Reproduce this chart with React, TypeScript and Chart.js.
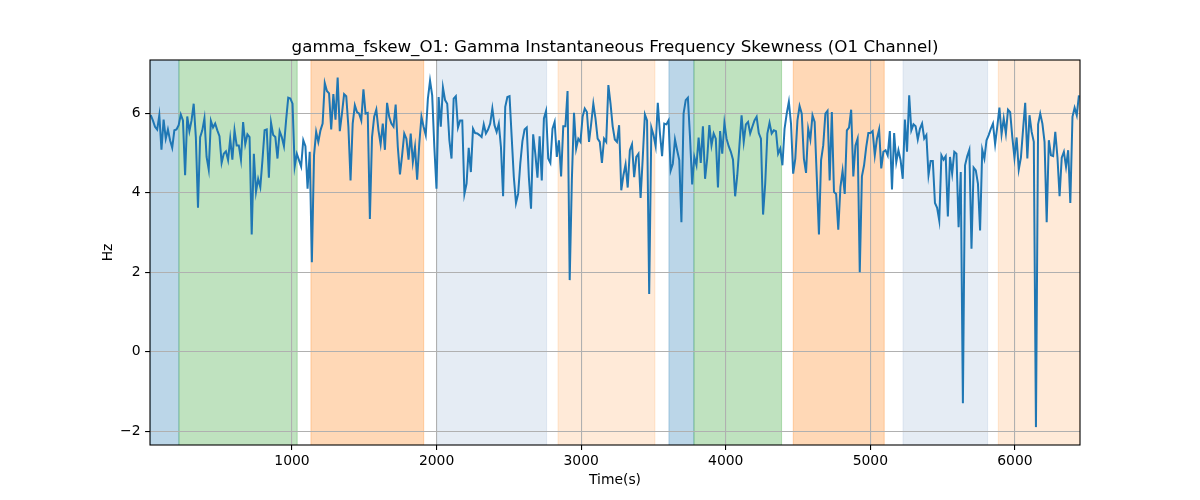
import React, { useEffect, useRef } from 'react';
import { Chart, registerables } from 'chart.js';

Chart.register(...registerables);

const TITLE = 'gamma_fskew_O1: Gamma Instantaneous Frequency Skewness (O1 Channel)';
const X_LABEL = 'Time(s)';
const Y_LABEL = 'Hz';

const START_TIME = 23;
const SAMPLE_STEP = 14.86;

const VALUES = [
  5.95, 5.82, 5.66, 5.59, 5.95, 5.08, 5.84, 5.36, 5.59, 5.32,
  5.13, 5.57, 5.59, 5.70, 5.97, 5.82, 4.44, 5.92, 5.55, 5.82,
  6.24, 5.40, 3.62, 5.40, 5.57, 5.87, 4.90, 4.58, 5.81, 5.64,
  5.74, 5.57, 5.42, 4.75, 4.98, 5.04, 4.82, 5.36, 4.83, 5.57,
  5.19, 5.19, 4.83, 5.78, 5.22, 5.47, 5.40, 2.95, 4.98, 4.02,
  4.35, 4.14, 4.82, 5.57, 5.59, 4.38, 5.76, 5.45, 5.40, 4.86,
  5.55, 5.40, 5.17, 5.82, 6.39, 6.37, 6.24, 4.66, 4.98, 4.82,
  4.66, 5.32, 5.17,
  4.10, 5.03, 2.25, 4.94, 5.53, 5.28, 5.57, 5.74, 6.76, 6.56,
  6.50, 5.59, 6.48, 5.84, 6.90, 5.55, 5.99, 6.48, 6.43, 5.66,
  4.31, 5.74, 6.20, 6.03, 5.99, 5.82, 6.60, 5.99, 6.01, 3.34,
  5.40, 5.91, 6.09, 5.57, 5.22, 5.74, 5.08, 6.26, 5.91, 5.74,
  5.66, 6.22, 5.15, 4.46, 4.94, 5.49, 5.36, 4.83, 5.49, 4.77,
  5.15, 4.33, 5.24, 5.91, 5.66, 5.45, 6.37, 6.82, 6.45, 5.15,
  4.10, 6.41, 5.66, 6.65, 6.33, 6.24, 5.32, 4.86, 6.37, 6.43,
  5.64, 5.82, 5.82,
  3.97, 4.23, 5.13, 4.52, 5.61, 5.50, 5.49, 5.45, 5.40, 5.72,
  5.49, 5.59, 5.74, 6.12, 5.70, 5.53, 5.74, 5.15, 3.91, 6.16,
  6.41, 6.43, 5.40, 4.39, 3.74, 3.97, 4.73, 5.30, 5.59, 5.64,
  4.39, 3.60, 5.47, 4.98, 4.38, 5.42, 4.31, 5.87, 6.06, 4.86,
  4.75, 5.61, 5.78, 4.90, 5.32, 4.41, 5.67, 5.67, 6.56, 1.80,
  4.31, 6.01, 5.11, 5.36, 5.28, 5.91, 6.12, 6.03, 5.28, 5.74,
  6.24, 5.87, 5.36, 5.28, 4.75, 5.36, 5.28, 6.71, 6.24, 5.67,
  5.34, 5.28, 5.70, 4.06,
  4.44, 4.71, 4.13, 5.07, 5.22, 4.39, 4.90, 4.98, 3.87, 4.88,
  5.97, 5.82, 1.45, 5.64, 5.45, 5.17, 6.26, 5.49, 4.92, 5.74,
  5.72, 5.82, 4.56, 4.73, 5.34, 5.07, 4.82, 3.26, 5.99, 6.33,
  6.39, 5.40, 4.21, 4.90, 4.69, 5.39, 4.75, 5.67, 4.35, 4.86,
  5.70, 5.19, 5.49, 5.36, 4.13, 5.55, 4.98, 5.76, 5.36, 5.17,
  5.03, 4.83, 3.91, 4.44, 5.19, 5.95, 5.28, 5.72, 5.78, 5.49,
  5.66, 5.82, 5.91, 5.50, 5.36, 3.45, 4.23, 5.49, 5.76, 5.49,
  5.57,
  5.55, 4.98, 5.11, 4.69, 5.61, 5.99, 6.29, 5.74, 4.48, 4.86,
  5.82, 6.18, 5.99, 4.86, 4.50, 5.61, 5.34, 5.95, 5.78, 4.39,
  2.95, 4.82, 5.19, 5.99, 6.06, 4.31, 6.03, 4.02, 3.97, 3.07,
  4.14, 4.55, 3.97, 5.57, 5.64, 6.09, 4.41, 5.19, 5.36, 2.00,
  4.41, 4.69, 5.15, 5.50, 5.50, 5.55, 4.94, 5.36, 5.59, 4.61,
  5.03, 5.07, 4.94, 5.55, 4.08, 5.50, 4.77, 5.07, 4.82, 4.35,
  5.84, 5.03, 6.45, 5.57, 5.72, 5.67, 5.34, 5.61, 5.74, 5.36,
  5.45, 4.44,
  4.80, 4.80, 3.74, 3.62, 3.30, 4.94, 4.83, 4.92, 3.40, 4.90,
  4.48, 5.03, 4.98, 3.13, 4.52, -1.30, 4.69, 4.92, 5.08, 2.59,
  4.63, 4.56, 4.23, 3.05, 5.08, 4.86, 5.32, 5.45, 5.61, 5.74,
  5.22, 5.66, 6.14, 5.47, 5.87, 5.49, 6.09, 6.03, 5.40, 4.88,
  5.39, 4.58, 4.88, 5.59, 6.26, 4.86, 5.95, 5.53, 5.28, -1.90,
  5.72, 5.99, 5.74, 5.28, 3.26, 5.32, 4.94, 4.92, 5.53, 4.90,
  3.91, 4.88, 5.03, 4.65, 5.07, 3.74, 5.91, 6.14, 5.95, 6.45,
];

const X_TICKS = [1000, 2000, 3000, 4000, 5000, 6000];
const Y_TICKS = [-2, 0, 2, 4, 6];
const X_MIN = 18;
const X_MAX = 6450;
const Y_MIN = -2.35;
const Y_MAX = 7.34;

const BAND_STARTS = [18, 218, 1131, 2000, 2840, 3607, 3780, 4467, 5226, 5885];
const BAND_ENDS = [218, 1036, 1911, 2761, 3510, 3780, 4386, 5096, 5811, 6450];
const BAND_KINDS = ['blue', 'green', 'orange', 'lightblue', 'lightorange', 'blue', 'green', 'orange', 'lightblue', 'lightorange'];

const BAND_COLORS: Record<string, string> = {
  blue: 'rgba(31,119,180,0.3)',
  green: 'rgba(44,160,44,0.3)',
  orange: 'rgba(255,127,14,0.3)',
  lightblue: 'rgba(176,196,222,0.33)',
  lightorange: 'rgba(255,127,14,0.16)',
};

const FONT = 'DejaVu Sans';
const TICK_FONT_SIZE = 13.9;
const TITLE_FONT_SIZE = 16.7;

const bandPlugin = {
  id: 'bands',
  beforeDraw(chart: any) {
    const { ctx, chartArea } = chart;
    const x = chart.scales.x;
    const h = chartArea.bottom - chartArea.top;
    ctx.save();
    ctx.beginPath();
    ctx.rect(chartArea.left, chartArea.top, chartArea.right - chartArea.left, h);
    ctx.clip();
    for (let i = 0; i < BAND_STARTS.length; i++) {
      const x0 = x.getPixelForValue(BAND_STARTS[i]);
      const x1 = x.getPixelForValue(BAND_ENDS[i]);
      ctx.fillStyle = BAND_COLORS[BAND_KINDS[i]];
      ctx.fillRect(x0, chartArea.top, x1 - x0, h);
      ctx.strokeStyle = BAND_COLORS[BAND_KINDS[i]];
      ctx.lineWidth = 1;
      ctx.beginPath();
      ctx.moveTo(x0, chartArea.top);
      ctx.lineTo(x0, chartArea.bottom);
      ctx.moveTo(x1, chartArea.top);
      ctx.lineTo(x1, chartArea.bottom);
      ctx.stroke();
    }
    ctx.restore();
  },
  afterDraw(chart: any) {
    const { ctx, chartArea } = chart;
    ctx.save();
    ctx.strokeStyle = '#000';
    ctx.lineWidth = 1.1;
    ctx.strokeRect(chartArea.left, chartArea.top, chartArea.right - chartArea.left, chartArea.bottom - chartArea.top);
    ctx.fillStyle = '#000';
    ctx.font = `${TITLE_FONT_SIZE}px "${FONT}"`;
    ctx.textAlign = 'center';
    ctx.textBaseline = 'alphabetic';
    ctx.fillText(TITLE, (chartArea.left + chartArea.right) / 2, chartArea.top - 8.3);
    ctx.restore();
  },
};

const fmt = (v: number) => (v < 0 ? '\u2212' + String(Math.abs(v)) : String(v));

export default function App() {
  const canvasRef = useRef<HTMLCanvasElement | null>(null);

  useEffect(() => {
    if (!canvasRef.current) return;
    const points = VALUES.map((v, i) => ({ x: START_TIME + i * SAMPLE_STEP, y: v }));
    const chart = new Chart(canvasRef.current, {
      type: 'line',
      data: {
        datasets: [
          {
            data: points,
            borderColor: '#1f77b4',
            borderWidth: 2,
            pointRadius: 0,
            tension: 0,
            fill: false,
          },
        ],
      },
      options: {
        responsive: false,
        animation: false,
        layout: { padding: { left: 96, right: 120, top: 60, bottom: 7 } },
        plugins: {
          legend: { display: false },
          tooltip: { enabled: false },
          title: { display: false },
        },
        scales: {
          x: {
            type: 'linear',
            min: X_MIN,
            max: X_MAX,
            afterBuildTicks: (axis: any) => {
              axis.ticks = X_TICKS.map((v) => ({ value: v }));
            },
            afterFit: (scale: any) => {
              scale.height = 48;
            },
            ticks: {
              color: '#000',
              font: { family: FONT, size: TICK_FONT_SIZE },
              padding: 3.5,
              maxRotation: 0,
              autoSkip: false,
              callback: (v: any) => fmt(Number(v)),
            },
            grid: {
              color: '#b0b0b0',
              lineWidth: 1.1,
              tickColor: '#000',
              tickLength: 4.9,
              tickWidth: 1.1,
            },
            border: { display: false },
            title: {
              display: true,
              text: X_LABEL,
              color: '#000',
              font: { family: FONT, size: TICK_FONT_SIZE },
              padding: { top: 0, bottom: 4 },
            },
          },
          y: {
            type: 'linear',
            min: Y_MIN,
            max: Y_MAX,
            afterBuildTicks: (axis: any) => {
              axis.ticks = Y_TICKS.map((v) => ({ value: v }));
            },
            afterFit: (scale: any) => {
              scale.width = 54;
            },
            ticks: {
              color: '#000',
              font: { family: FONT, size: TICK_FONT_SIZE },
              padding: 4.5,
              autoSkip: false,
              callback: (v: any) => fmt(Number(v)),
            },
            grid: {
              color: '#b0b0b0',
              lineWidth: 1.1,
              tickColor: '#000',
              tickLength: 4.9,
              tickWidth: 1.1,
            },
            border: { display: false },
            title: {
              display: true,
              text: Y_LABEL,
              color: '#000',
              font: { family: FONT, size: TICK_FONT_SIZE },
              padding: { top: 4, bottom: 0 },
            },
          },
        },
      },
      plugins: [bandPlugin],
    } as any);
    return () => chart.destroy();
  }, []);

  return (
    <div style={{ position: 'fixed', left: 0, top: 0, width: 1200, height: 500, background: '#fff' }}>
      <canvas ref={canvasRef} width={1200} height={500} style={{ width: 1200, height: 500, display: 'block' }} />
    </div>
  );
}
